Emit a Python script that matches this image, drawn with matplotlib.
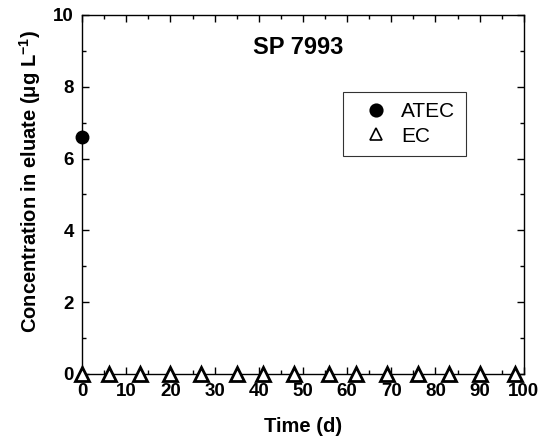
import matplotlib
matplotlib.use("Agg")
import matplotlib.pyplot as plt
from matplotlib.ticker import MultipleLocator

plt.rcParams['font.family'] = ['Liberation Sans', 'DejaVu Sans']
plt.rcParams['mathtext.fontset'] = 'custom'
plt.rcParams['mathtext.rm'] = 'Liberation Sans'
plt.rcParams['mathtext.bf'] = 'Liberation Sans:bold'

atec_time = [0]
atec_conc = [6.6]
ec_time = [0, 6, 13, 20, 27, 35, 41, 48, 56, 62, 69, 76, 83, 90, 98]
ec_conc = [0] * len(ec_time)

fig = plt.figure(figsize=(5.4, 4.41), dpi=100)
ax = fig.add_axes([0.152, 0.152, 0.818, 0.814])

ax.plot(atec_time, atec_conc, 'o', color='black', markersize=9, label='ATEC',
        clip_on=False, zorder=5)
ax.plot(ec_time, ec_conc, '^', markerfacecolor='white', markeredgecolor='black',
        markeredgewidth=2, markersize=10, label='EC', clip_on=False, zorder=6)

ax.set_xlim(0, 100)
ax.set_ylim(0, 10)
ax.xaxis.set_major_locator(MultipleLocator(10))
ax.xaxis.set_minor_locator(MultipleLocator(5))
ax.yaxis.set_major_locator(MultipleLocator(2))
ax.yaxis.set_minor_locator(MultipleLocator(1))
ax.tick_params(which='both', direction='in', top=True, right=True, width=1)
ax.tick_params(which='major', length=5, labelsize=13.5)
ax.tick_params(axis='x', which='major', pad=6.5)
ax.tick_params(axis='y', which='major', pad=6)
ax.tick_params(which='minor', length=3)
for lab in ax.get_xticklabels() + ax.get_yticklabels():
    lab.set_fontweight('bold')
for s in ax.spines.values():
    s.set_linewidth(1)

ax.set_xlabel('Time (d)', fontsize=14.5, fontweight='bold', labelpad=12)
ax.set_ylabel('Concentration in eluate (\u03bcg L$^{\\mathbf{-1}}$)', fontsize=14.5,
              fontweight='bold', labelpad=7)
ax.yaxis.label.set_y(0.535)
ax.text(49, 9.1, 'SP 7993', ha='center', va='center', fontsize=17, fontweight='bold')

leg = ax.legend(loc='upper left', bbox_to_anchor=(343 / 540, 1 - 92 / 441),
                bbox_transform=fig.transFigure, borderaxespad=0, fontsize=15,
                frameon=True, fancybox=False, edgecolor='black', handletextpad=0.1,
                borderpad=0.5, labelspacing=0.25, handlelength=2.2)
leg.get_frame().set_linewidth(0.8)
for h in leg.legend_handles:
    h.set_markersize(9)
    h.set_markeredgewidth(1.2)

fig.savefig('out.png', dpi=100)
